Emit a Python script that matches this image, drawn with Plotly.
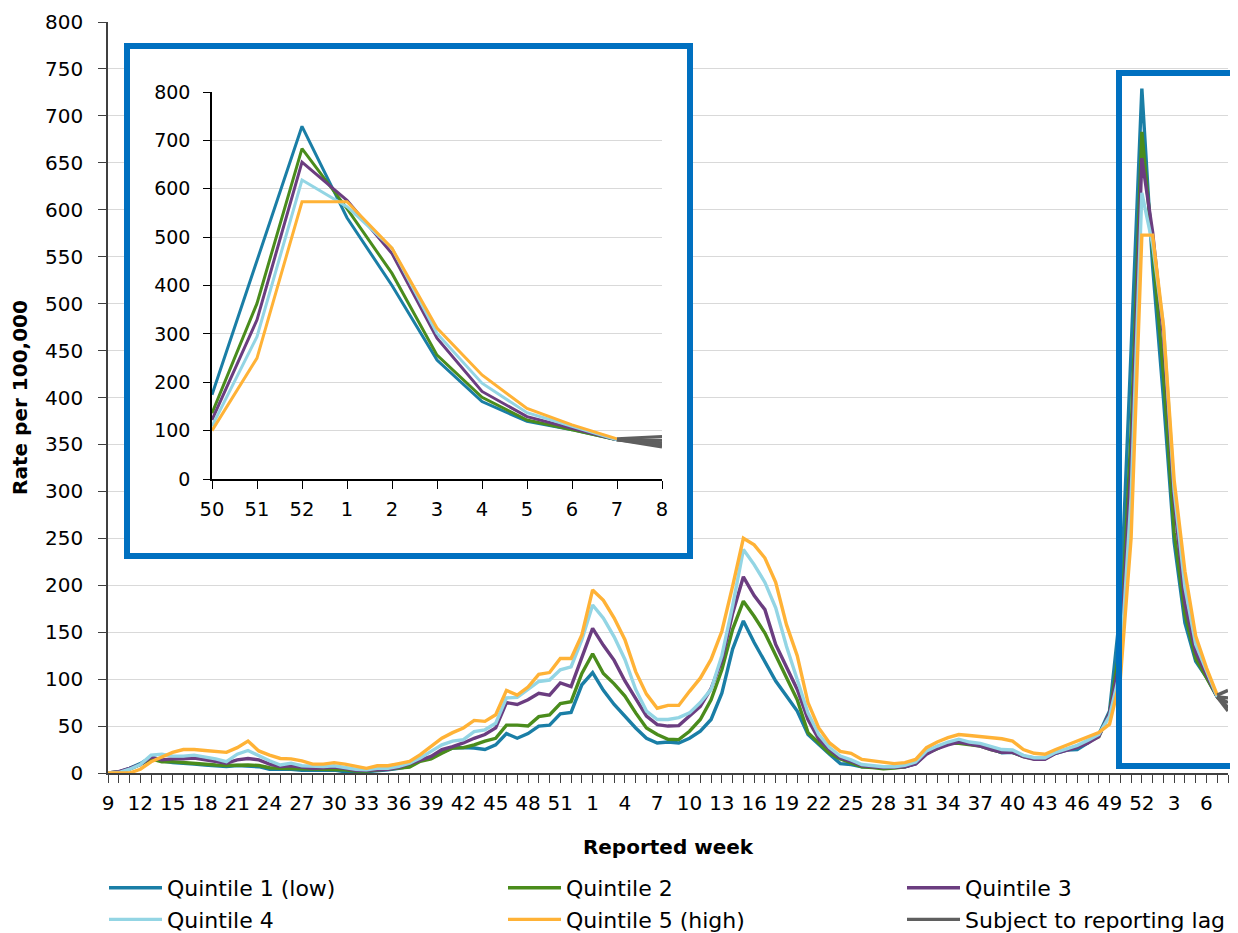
import plotly.graph_objects as go

# Reported weeks: 2020 wk9-53, 2021 wk1-52, 2022 wk1-8
weeks = list(range(9, 54)) + list(range(1, 53)) + list(range(1, 9))

quintile_names = ["Quintile 1 (low)", "Quintile 2", "Quintile 3", "Quintile 4", "Quintile 5 (high)"]
lag_name = "Subject to reporting lag"

q1 = [0, 1, 5, 10, 17, 13, 11, 10.5, 9.5, 8.5,
      8, 7, 8, 7, 6.7, 4, 4, 4, 3, 3,
      3, 3, 1.4, 0.7, 1.4, 2, 3.5, 5, 7, 13.5,
      16, 22, 26.6, 27, 26.6, 25, 30, 42, 37, 42,
      50, 51, 63, 64.5, 94, 107, 88, 73, 60, 48,
      37, 32, 33, 32, 37, 44.5, 57, 85, 132, 162,
      139, 119, 98, 82, 66, 41, 30, 20, 10, 9,
      6.7, 6.4, 5.7, 5.7, 6.7, 10, 21, 26.6, 31.6, 33.7,
      31, 29.4, 26, 21.6, 22, 18, 16, 16, 21, 24.5,
      25, 32, 41, 66, 174, 450, 729, 540, 400, 246,
      160, 119, 102, 81, 66]
q2 = [0, 1, 4, 9, 15, 12, 12, 11, 10.5, 9.5,
      8.5, 8, 8.5, 8.5, 8, 5.6, 5, 5, 4.2, 4.2,
      4, 4, 3.5, 2, 2, 3, 4, 5, 6.4, 12.4,
      15, 21, 26.6, 27, 30, 34, 37, 51, 51, 50,
      60, 62, 74, 76, 106, 127, 106, 95, 82, 64,
      48, 41, 36, 35.6, 44.5, 57, 78, 110, 153, 183,
      167, 149, 125, 100, 78, 43, 32, 21, 15, 10.7,
      6.7, 5.7, 4.6, 5.3, 6.7, 10.3, 21, 26, 31.6, 31.6,
      30.5, 28.7, 25, 22, 22, 17.4, 15, 15, 21.6, 25,
      28.7, 33, 38.7, 64, 136, 363, 683, 559, 425, 256,
      169, 122, 102, 81, 70]
q3 = [0, 1.5, 5, 9, 17, 14, 15, 15, 16, 14,
      12, 10.5, 14, 15.5, 14, 9.5, 7, 7.7, 6.3, 5,
      5.6, 6.3, 5, 3, 3, 3.5, 4, 6, 10, 14,
      17.7, 25, 28, 32, 37, 41, 48, 75, 73, 78,
      85, 83, 96, 92, 124, 154, 136, 120, 98, 80,
      60.5, 51.6, 50, 50.5, 60.5, 71, 90, 120, 170, 209,
      189, 174, 137, 114, 89, 57, 36, 25, 16, 12.5,
      8, 6.7, 5.7, 6, 6.7, 9.6, 20, 26, 30, 33,
      30.5, 28.7, 25, 22, 22, 17.4, 14.5, 14.5, 21, 24.5,
      27.3, 32, 38.7, 64, 122, 329, 655, 576, 466, 291,
      181, 129, 105, 81, 75]
q4 = [0, 0.5, 4, 9, 19, 20, 18, 18, 19, 17,
      15, 12, 20, 24, 18, 13, 8.5, 10.5, 7.7, 7,
      7, 7.7, 6, 4, 3.5, 5, 5, 7, 10.6, 16,
      23, 30, 34, 35.5, 44, 46, 53, 80, 80.5, 89,
      97.5, 99, 110, 113, 142, 179, 165, 145, 121, 89,
      66, 57, 57, 59, 64, 75, 89, 125, 178, 238,
      222, 203, 176, 135, 100, 64, 41, 27, 18, 14,
      9, 7.4, 6.7, 6.7, 8.2, 11.7, 23.4, 28.7, 33, 36,
      33, 31.6, 28.7, 25, 24.5, 18.8, 16.3, 16.3, 22, 26,
      29.4, 35, 41, 60.6, 109, 294, 618, 563, 477, 301,
      198, 137, 109, 81, 80]
q5 = [0, 0, 0, 4, 12, 17, 22, 25, 25, 24,
      23, 22, 27, 34, 23.5, 19, 15.5, 15, 13, 9.5,
      9.5, 11, 9.5, 7, 5, 7.7, 7.7, 10, 12.4, 19.5,
      28, 37, 43, 48, 56, 55, 62, 88, 83, 91.5,
      105, 107, 122, 122, 147, 195, 184, 165, 142, 108,
      84, 69, 72, 72, 87, 101, 121, 151, 199, 250,
      243, 229, 203, 158, 125, 75, 48, 32, 23, 21,
      14.5, 12.8, 11, 10, 11, 14.5, 27, 33, 37.6, 41,
      40, 38.7, 37.6, 36.5, 34, 25, 21, 20, 25, 29.4,
      34, 38.7, 43, 52, 100, 250, 573, 573, 477, 312,
      215, 146, 112, 83, 88]

series = [q1, q2, q3, q4, q5]
colors = ["#1A7EA6", "#4A8C1C", "#6B3D80", "#93D5E4", "#FFB236"]
lag_color = "#5F5F5F"
box_color = "#0070C0"

FONT = "DejaVu Sans, Open Sans, sans-serif"
n = len(weeks)
lag_start = n - 2          # last complete week; the final week is subject to lag
inset_start = weeks.index(50, 45)  # 2021 week 50

fig = go.Figure()

# ---- main chart ----
for name, vals, col in zip(quintile_names, series, colors):
    fig.add_trace(go.Scatter(
        x=list(range(lag_start + 1)), y=vals[:lag_start + 1], name=name,
        mode="lines", line=dict(color=col, width=3.4), xaxis="x", yaxis="y",
        legendgroup=name))
for k, vals in enumerate(series):
    fig.add_trace(go.Scatter(
        x=list(range(lag_start, n)), y=vals[lag_start:], name=lag_name,
        mode="lines", line=dict(color=lag_color, width=3.4), xaxis="x", yaxis="y",
        showlegend=(k == 0), legendgroup="lag"))

# ---- white panel behind inset (its own subplot so it covers main grid) ----
fig.add_trace(go.Scatter(x=[], y=[], xaxis="x2", yaxis="y2", showlegend=False,
                         hoverinfo="skip"))

# ---- inset chart ----
inset_x = list(range(n - inset_start))
inset_lag = lag_start - inset_start
for name, vals, col in zip(quintile_names, series, colors):
    fig.add_trace(go.Scatter(
        x=inset_x[:inset_lag + 1], y=vals[inset_start:lag_start + 1], name=name,
        mode="lines", line=dict(color=col, width=3), xaxis="x3", yaxis="y3",
        showlegend=False, legendgroup=name))
for vals in series:
    fig.add_trace(go.Scatter(
        x=inset_x[inset_lag:], y=vals[lag_start:], name=lag_name,
        mode="lines", line=dict(color=lag_color, width=3), xaxis="x3", yaxis="y3",
        showlegend=False, legendgroup="lag"))

main_ticktext = [str(w) if i % 3 == 0 else "" for i, w in enumerate(weeks)]
inset_ticktext = [str(w) for w in weeks[inset_start:]]

# page has an 8px body margin; build figure so plot lands at screen coords
OFF = 8
W, H = 1230, 925
L, R, T, B = 100, 10, 14, 160
pw, ph = W - L - R, H - T - B

def px_x(sx):
    return (sx - OFF - L) / pw

def px_y(sy):
    return (H - B - (sy - OFF)) / ph

fig.update_layout(
    width=W, height=H,
    margin=dict(l=L, r=R, t=T, b=B, autoexpand=False),
    paper_bgcolor="white", plot_bgcolor="white",
    font=dict(family=FONT, size=20, color="#000000"),
    showlegend=True,
    legend=dict(orientation="h", x=px_x(104), xanchor="left", y=px_y(867), yanchor="top",
                entrywidth=331, entrywidthmode="pixels", itemwidth=53,
                font=dict(family=FONT, size=22, color="#000000"),
                traceorder="normal", bgcolor="rgba(0,0,0,0)", tracegroupgap=0),
    xaxis=dict(domain=[0, 1], range=[0, n - 1], tickmode="array",
               tickvals=list(range(n)), ticktext=main_ticktext,
               ticks="outside", ticklen=8, tickcolor="#404040", tickwidth=1,
               showline=True, linecolor="#404040", linewidth=1.5,
               showgrid=False, zeroline=False, ticklabelstandoff=3,
               tickfont=dict(size=20), fixedrange=True,
               title=dict(text="Reported week", standoff=26,
                          font=dict(size=20, weight="bold"))),
    yaxis=dict(domain=[0, 1], range=[0, 800], dtick=50, tick0=0,
               ticks="outside", ticklen=8, tickcolor="#404040",
               showline=True, linecolor="#404040", linewidth=1.5,
               showgrid=True, gridcolor="#D9D9D9", gridwidth=1.2, zeroline=False,
               ticklabelstandoff=11, tickfont=dict(size=20),
               title=dict(text="Rate per 100,000", standoff=12,
                          font=dict(size=20, weight="bold"))),
    xaxis2=dict(domain=[px_x(127), px_x(690)], anchor="y2", visible=False, range=[0, 1]),
    yaxis2=dict(domain=[px_y(556), px_y(46)], anchor="x2", visible=False, range=[0, 1]),
    xaxis3=dict(domain=[px_x(212), px_x(662)], anchor="y3", range=[0, len(inset_x) - 1],
                tickmode="array", tickvals=inset_x, ticktext=inset_ticktext,
                ticks="outside", ticklen=8, tickcolor="#000000",
                showline=True, linecolor="#000000", linewidth=1.5,
                showgrid=False, zeroline=False, ticklabelstandoff=4,
                tickfont=dict(size=19.5)),
    yaxis3=dict(domain=[px_y(479), px_y(92)], anchor="x3", range=[0, 800], dtick=100,
                ticks="outside", ticklen=7, tickcolor="#000000",
                showline=True, linecolor="#000000", linewidth=1.5,
                showgrid=True, gridcolor="#D9D9D9", gridwidth=1.2, zeroline=False,
                ticklabelstandoff=9, tickfont=dict(size=19)),
    shapes=[
        dict(type="rect", xref="paper", yref="paper", layer="above",
             x0=px_x(127), x1=px_x(690), y0=px_y(556), y1=px_y(46),
             line=dict(color=box_color, width=6), fillcolor="rgba(0,0,0,0)"),
        dict(type="rect", xref="paper", yref="paper", layer="above",
             x0=px_x(1119), x1=px_x(1260), y0=px_y(766), y1=px_y(73),
             line=dict(color=box_color, width=6), fillcolor="rgba(0,0,0,0)"),
    ],
)

fig.write_html("out.html")
